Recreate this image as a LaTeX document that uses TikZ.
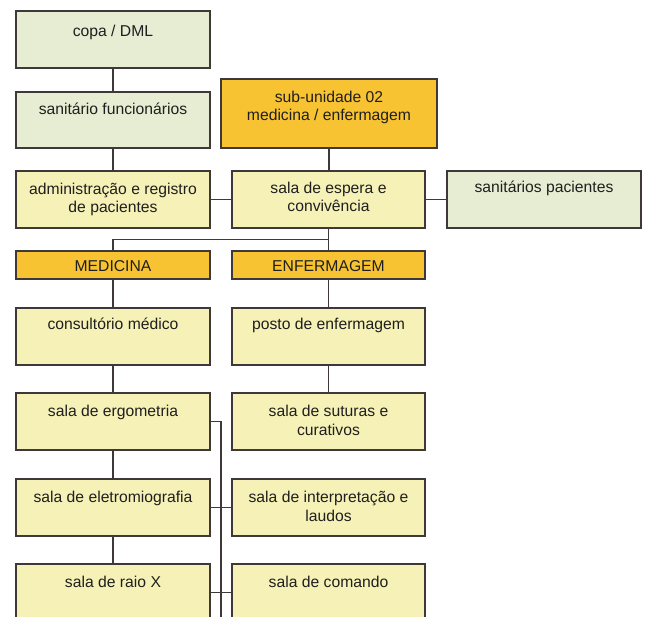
\documentclass[tikz,border=0pt]{standalone}
\usepackage{fontspec}
\setmainfont{Liberation Sans}
\usetikzlibrary{calc}
\definecolor{gfill}{HTML}{E6EDD2}
\definecolor{yfill}{HTML}{F6F1B6}
\definecolor{ofill}{HTML}{F8C332}
\definecolor{bcol}{HTML}{3F3838}
\tikzset{
  boxbase/.style={draw=bcol, line width=1.6pt, rectangle, inner sep=0pt, outer sep=0pt},
  gbox/.style={boxbase, fill=gfill},
  ybox/.style={boxbase, fill=yfill},
  obox/.style={boxbase, fill=ofill},
  txt/.style={anchor=base, inner sep=0pt, align=center, text=black!88,
    font=\fontsize{15.7}{18.8}\selectfont},
  conn/.style={draw=bcol, line width=1.9pt},
}
% box macro: name, style, x1, y1, x2, y2
\newcommand{\mybox}[6]{%
  \node[#2, minimum width={(#5-#3)*1pt}, minimum height={(#6-#4)*1pt}]
    (#1) at ({(#3+#5)/2}, {(#4+#6)/2}) {};}
\begin{document}
\begin{tikzpicture}[x=1pt, y=-1pt]
\clip (0,0) rectangle (645,617);
\fill[white] (0,0) rectangle (645,617);

\mybox{copa}{gbox}{16}{11}{210}{68}
\mybox{sanf}{gbox}{16}{92}{210}{148}
\mybox{sub}{obox}{221}{79}{437}{148}
\mybox{adm}{ybox}{16}{171}{210}{228}
\mybox{esp}{ybox}{232}{171}{425}{228}
\mybox{sanp}{gbox}{447}{171}{641}{228}
\mybox{med}{obox}{16}{251}{210}{279}
\mybox{enf}{obox}{232}{251}{425}{279}
\mybox{cons}{ybox}{16}{308}{210}{365}
\mybox{posto}{ybox}{232}{308}{425}{365}
\mybox{ergo}{ybox}{16}{393}{210}{450}
\mybox{sut}{ybox}{232}{393}{425}{450}
\mybox{eletro}{ybox}{16}{479}{210}{536}
\mybox{interp}{ybox}{232}{479}{425}{536}
\mybox{raio}{ybox}{16}{564}{210}{621}
\mybox{coman}{ybox}{232}{564}{425}{621}

% texts (for two-line texts the base anchor is the last line)
\node[txt] (tcopa) at ($(copa.north)+(0,26)$) {copa / DML};
\node[txt] (tsanf) at ($(sanf.north)+(0,23)$) {sanitário funcionários};
\node[txt] (tsub) at ($(sub.north)+(0,42)$) {sub-unidade 02\\medicina / enfermagem};
\node[txt] (tadm) at ($(adm.north)+(0,42)$) {administração e registro\\de pacientes};
\node[txt] (tesp) at ($(esp.north)+(0,41)$) {sala de espera e\\convivência};
\node[txt] (tsanp) at ($(sanp.north)+(0,22)$) {sanitários pacientes};
\node[txt] (tmed) at ($(med.north)+(0,21)$) {MEDICINA};
\node[txt] (tenf) at ($(enf.north)+(0,21)$) {ENFERMAGEM};
\node[txt] (tcons) at ($(cons.north)+(0,22)$) {consultório médico};
\node[txt] (tposto) at ($(posto.north)+(0,22)$) {posto de enfermagem};
\node[txt] (tergo) at ($(ergo.north)+(0,23)$) {sala de ergometria};
\node[txt] (tsut) at ($(sut.north)+(0,42)$) {sala de suturas e\\curativos};
\node[txt] (teletro) at ($(eletro.north)+(0,23)$) {sala de eletromiografia};
\node[txt] (tinterp) at ($(interp.north)+(0,42)$) {sala de interpretação e\\laudos};
\node[txt] (traio) at ($(raio.north)+(0,23)$) {sala de raio X};
\node[txt] (tcoman) at ($(coman.north)+(0,23)$) {sala de comando};

% connectors
\draw[conn] (copa) -- (sanf);
\draw[conn] (sanf) -- (adm);
\draw[conn] (sub.south) -- (sub.south |- esp.north);
\draw[conn] (adm) -- (esp);
\draw[conn] (esp) -- (sanp);
\coordinate (bus) at ($(esp.south)!0.5!(enf.north)$);
\draw[conn] (esp) -- (enf);
\draw[conn] (med.north) |- (bus);
\draw[conn] (med) -- (cons);
\draw[conn] (enf) -- (posto);
\draw[conn] (cons) -- (ergo);
\draw[conn] (ergo) -- (eletro);
\draw[conn] (eletro) -- (raio);
\draw[conn] (posto) -- (sut);
\coordinate (rbus) at (221,625);
\draw[conn] (ergo.east) -| (rbus);
\draw[conn] (eletro) -- (interp);
\draw[conn] (raio) -- (coman);
\end{tikzpicture}
\end{document}
